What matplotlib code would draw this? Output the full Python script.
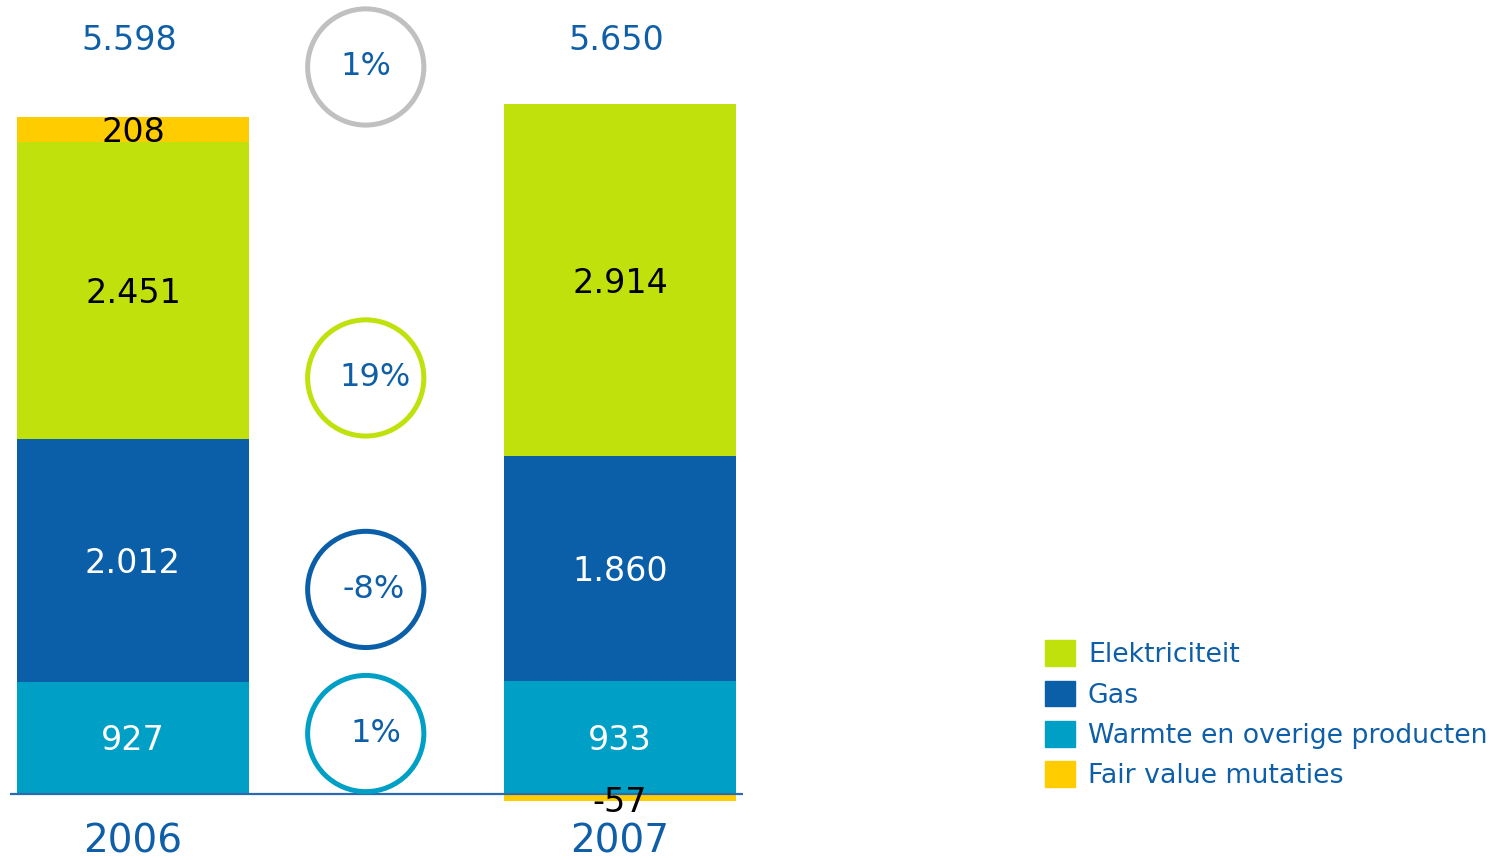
import numpy as np
import matplotlib
matplotlib.use("Agg")
import matplotlib.pyplot as plt
from matplotlib.patches import Patch

plt.rcParams['font.family'] = ['DejaVu Sans']

# data (mln euro)
years = ['2006', '2007']
series = ['Warmte en overige producten', 'Gas', 'Elektriciteit', 'Fair value mutaties']
warmte = [927, 933]
gas = [2012, 1860]
elek = [2451, 2914]
fair = [208, -57]
changes = ['1%', '-8%', '19%', '1%']  # warmte, gas, elek, totaal

colors = {
    'Elektriciteit': '#c0e10c',
    'Gas': '#0a5fa8',
    'Warmte en overige producten': '#00a0c6',
    'Fair value mutaties': '#ffcc00',
}
txt_colors = {
    'Elektriciteit': 'black',
    'Gas': 'white',
    'Warmte en overige producten': 'white',
    'Fair value mutaties': 'black',
}
circle_colors = ['#00a0c6', '#0a5fa8', '#c0e10c', '#c0c0c0']
blue = '#0f5fa8'

fig = plt.figure(figsize=(14.99, 8.6), dpi=100)
ax = fig.add_axes([0, 0, 1, 1])
ax.set_xlim(-0.273, 2.805)
ax.set_ylim(-546, 6567)
ax.axis('off')

x = np.arange(len(years))
width = 0.476
vals = {'Warmte en overige producten': warmte, 'Gas': gas,
        'Elektriciteit': elek, 'Fair value mutaties': fair}

shift = -25  # labels sit slightly below the segment middle
pos_bottom = np.zeros(len(years))
for name in series:
    v = np.array(vals[name], dtype=float)
    bottom = np.where(v >= 0, pos_bottom, 0)
    ax.bar(x, v, width, bottom=bottom, color=colors[name], linewidth=0)
    for i in range(len(years)):
        label = f"{int(v[i]):,}".replace(',', '.')
        yc = bottom[i] + v[i] / 2 + shift
        if name == 'Fair value mutaties':
            yc = bottom[i] + v[i] - 130 if v[i] >= 0 else bottom[i] + v[i] - 10
        ax.text(x[i], yc, label, ha='center', va='center', fontsize=24,
                color=txt_colors[name])
    pos_bottom = pos_bottom + np.where(v >= 0, v, 0)

# totals
totals = np.array(warmte) + np.array(gas) + np.array(elek) + np.array(fair)
for i, t in enumerate(totals):
    ax.text(x[i] - 0.008, 6236, f"{t:,}".replace(',', '.'), ha='center',
            va='center', fontsize=24, color=blue)

# year labels
for i, yr in enumerate(years):
    ax.text(x[i], -390, yr, ha='center', va='center', fontsize=28, color=blue)

# baseline
ax.plot([-0.252, 1.252], [0, 0], color='#2a6ab0', lw=1.6, solid_capstyle='butt')

# change circles
circle_y = [500, 1692, 3441, 6013]
cx = 0.478
ax.scatter([cx] * 4, circle_y, s=7000, facecolors='white',
           edgecolors=circle_colors, linewidths=3.6, zorder=3)
for yv, lab, dx in zip(circle_y, changes, [0.02, 0.017, 0.019, 0.0]):
    ax.text(cx + dx, yv, lab, ha='center', va='center', fontsize=23,
            color=blue, zorder=4)

# legend
handles = [Patch(color=colors[n], label=n) for n in
           ['Elektriciteit', 'Gas', 'Warmte en overige producten', 'Fair value mutaties']]
leg = ax.legend(handles=handles, loc='upper left', bbox_to_anchor=(0.690, 0.268),
                frameon=False, fontsize=19.3, handlelength=1.1, handleheight=1.1,
                labelspacing=0.46, handletextpad=0.5, borderaxespad=0)
for t in leg.get_texts():
    t.set_color(blue)

fig.savefig('out.png', dpi=100)
